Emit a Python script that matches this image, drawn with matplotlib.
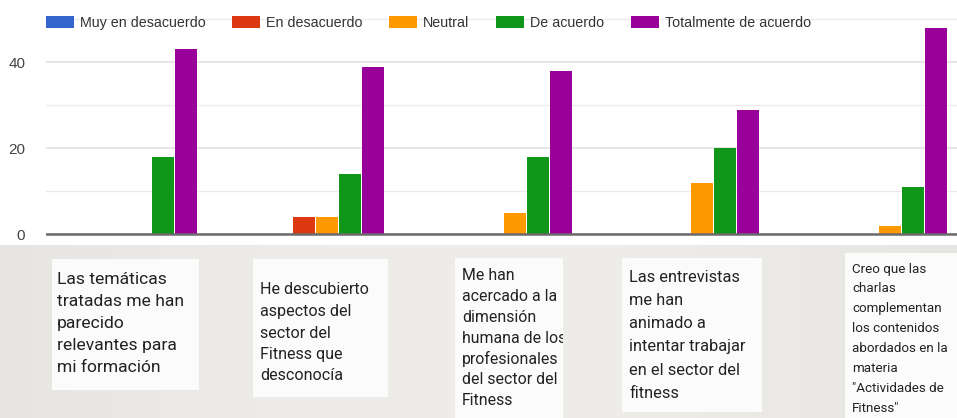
import numpy as np
import matplotlib
matplotlib.use("Agg")
import matplotlib.pyplot as plt
from matplotlib.patches import Rectangle

# ---------------- data ----------------
series = ["Muy en desacuerdo", "En desacuerdo", "Neutral", "De acuerdo", "Totalmente de acuerdo"]
muy_desacuerdo = [0, 0, 0, 0, 0]
en_desacuerdo = [0, 4, 0, 0, 0]
neutral = [0, 4, 5, 12, 2]
de_acuerdo = [18, 14, 18, 20, 11]
totalmente = [43, 39, 38, 29, 48]
categories = [
    "Las temáticas\ntratadas me han\nparecido\nrelevantes para\nmi formación",
    "He descubierto\naspectos del\nsector del\nFitness que\ndesconocía",
    "Me han\nacercado a la\ndimensión\nhumana de los\nprofesionales\ndel sector del\nFitness",
    "Las entrevistas\nme han\nanimado a\nintentar trabajar\nen el sector del\nfitness",
    "Creo que las\ncharlas\ncomplementan\nlos contenidos\nabordados en la\nmateria\n\"Actividades de\nFitness\"",
]
y_ticks = [0, 20, 40]
y_minor = [10, 30, 50]

colors = ["#3366cc", "#dc3912", "#ff9900", "#109618", "#990099"]

# ---------------- figure ----------------
W, H = 957, 418
fig = plt.figure(figsize=(W / 100, H / 100), dpi=100)
fig.patch.set_facecolor("white")

def fx(px):
    return px / W

def fy(py):
    return 1 - py / H

# lower photographed area background
bg_ax = fig.add_axes([0, 0, 1, fy(245)])
bg_ax.set_axis_off()
grad = np.linspace(0, 1, 200)
shade = 0.905 + 0.03 * np.sin(np.pi * grad)
img = np.dstack([shade, shade - 0.006, shade - 0.018])
bg_ax.imshow(img.repeat(2, axis=0), aspect="auto", extent=[0, 1, 0, 1])
bg_ax.set_xlim(0, 1)
bg_ax.set_ylim(0, 1)

# main chart axes
ax = fig.add_axes([fx(46), fy(245), 1 - fx(46), fy(0) - fy(245)])
ax.set_facecolor("white")
px_per_unit = 4.3
zero_px = 234.3
ax.set_ylim(-(245 - zero_px) / px_per_unit, zero_px / px_per_unit)
group_px = 187.5
ax.set_xlim(-0.5, -0.5 + (W - 46) / group_px)

step = 23 / group_px
bw = 22 / group_px
x = np.arange(len(categories))
all_series = [muy_desacuerdo, en_desacuerdo, neutral, de_acuerdo, totalmente]
handles = []
for j, (name, vals) in enumerate(zip(series, all_series)):
    b = ax.bar(x + (j - 2) * step, vals, width=bw, color=colors[j],
               linewidth=0, zorder=2, label=name)
    handles.append(b)

ax.set_yticks(y_ticks)
ax.set_yticklabels([str(v) for v in y_ticks])
ax.set_yticks(y_minor, minor=True)
ax.set_xticks([])
ax.grid(axis="y", which="major", color="#e2e2e2", lw=1.2, zorder=0)
ax.grid(axis="y", which="minor", color="#ebebeb", lw=1.0, zorder=0)
ax.axhline(0, color="#6b6b6b", lw=1.8, zorder=3)
ax.tick_params(axis="y", which="both", length=0, pad=15, labelsize=11,
               labelcolor="#444444")
for lab in ax.get_yticklabels():
    lab.set_fontfamily("Liberation Sans")
for s in ax.spines.values():
    s.set_visible(False)

leg = fig.legend(handles, series, loc="center left",
                 bbox_to_anchor=(fx(46), fy(23)), ncol=5, frameon=False,
                 prop={"family": "Liberation Sans", "size": 10.3},
                 handlelength=1.96, handleheight=0.84, handletextpad=0.42,
                 columnspacing=1.85, borderpad=0, borderaxespad=0)
for t in leg.get_texts():
    t.set_color("#333333")

# ---------------- category label boxes ----------------
# (left, top, right, bottom, text_x, first_line_y, line_step, fontsize)
boxes = [
    (52, 259, 199, 390, 57, 280, 21.8, 12.6),
    (253, 259, 388, 397, 260, 290, 21.5, 11.6),
    (455, 258, 563, 418, 462, 276, 20.7, 11.4),
    (622, 258, 762, 412, 629, 277, 23.3, 11.8),
    (845, 253, 960, 418, 852, 269, 19.9, 9.6),
]
for cat, (l, t, r, b, tx, ty, ls, fs) in zip(categories, boxes):
    rect = Rectangle((fx(l), fy(b)), fx(r) - fx(l), fy(t) - fy(b),
                     transform=fig.transFigure, facecolor="#fbfbfb",
                     edgecolor="none", zorder=5)
    fig.add_artist(rect)
    for i, line in enumerate(cat.split("\n")):
        txt = fig.text(fx(tx), fy(ty + i * ls), line, ha="left", va="center",
                       fontsize=fs, family="Roboto", color="#222222", zorder=6)
        txt.set_clip_path(rect)

fig.savefig("out.png", dpi=100)
